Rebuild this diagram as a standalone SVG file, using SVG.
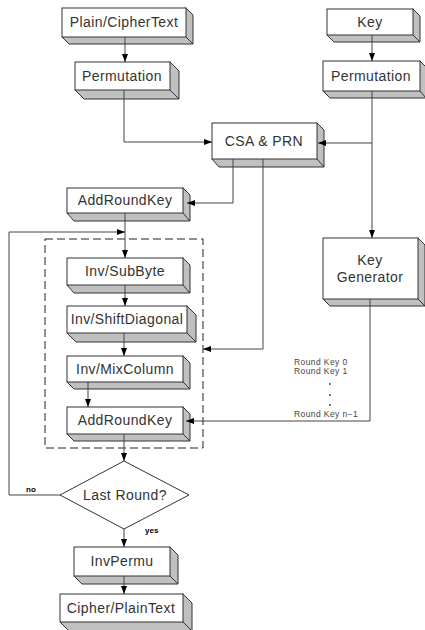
<svg xmlns="http://www.w3.org/2000/svg" width="425" height="630" viewBox="0 0 425 630">
<defs>
<style>
.sh{fill:#c0c0c0;stroke:#333;stroke-width:1}
.fr{fill:#fff;stroke:#333;stroke-width:1}
.t{font-family:"Liberation Sans",Arial,sans-serif;font-size:14px;letter-spacing:0.4px;fill:#333;text-anchor:middle}
.s{font-family:"Liberation Sans",Arial,sans-serif;font-size:8.5px;letter-spacing:0.4px;fill:#444}
.b{font-family:"Liberation Sans",Arial,sans-serif;font-size:8px;font-weight:bold;fill:#000}
.c{fill:none;stroke:#444;stroke-width:1}
.a{marker-end:url(#ah)}
</style>
<marker id="ah" markerUnits="userSpaceOnUse" markerWidth="8" markerHeight="8" viewBox="0 0 8 8" refX="8" refY="4" orient="auto">
<path d="M0,1 L8,4 L0,7 Z" fill="#000"/>
</marker>
</defs>
<rect width="425" height="630" fill="#fff"/>

<g id="plain">
<polygon class="sh" points="186,8 193,15 193,44 69,44 62,37"/><line class="sh" x1="186" y1="37" x2="193" y2="44"/>
<rect class="fr" x="62" y="8" width="124" height="29"/>
<text class="t" x="124" y="27">Plain/CipherText</text>
</g>
<g id="perm-l">
<polygon class="sh" points="170,62 179,71 179,99 84,99 75,90"/><line class="sh" x1="170" y1="90" x2="179" y2="99"/>
<rect class="fr" x="75" y="62" width="95" height="28"/>
<text class="t" x="122" y="81">Permutation</text>
</g>
<g id="key">
<polygon class="sh" points="413,9 420,16 420,42 334,42 327,35"/><line class="sh" x1="413" y1="35" x2="420" y2="42"/>
<rect class="fr" x="327" y="9" width="86" height="26"/>
<text class="t" x="370" y="27">Key</text>
</g>
<g id="perm-r">
<polygon class="sh" points="420,61 426,67 426,98 330,98 323,91"/><line class="sh" x1="420" y1="91" x2="426" y2="98"/>
<rect class="fr" x="323" y="61" width="97" height="30"/>
<text class="t" x="371" y="81">Permutation</text>
</g>
<g id="csa">
<polygon class="sh" points="317,123 324,130 324,167 219,167 212,159"/><line class="sh" x1="317" y1="159" x2="324" y2="167"/>
<rect class="fr" x="212" y="123" width="105" height="36"/>
<text class="t" x="264" y="146">CSA &amp; PRN</text>
</g>
<g id="ark1">
<polygon class="sh" points="183,188 190,195 190,221 74,221 67,213"/><line class="sh" x1="183" y1="213" x2="190" y2="221"/>
<rect class="fr" x="67" y="188" width="116" height="25"/>
<text class="t" x="125" y="205">AddRoundKey</text>
</g>
<g id="subbyte">
<polygon class="sh" points="183,258 190,265 190,293 74,293 67,285"/><line class="sh" x1="183" y1="285" x2="190" y2="293"/>
<rect class="fr" x="67" y="258" width="116" height="27"/>
<text class="t" x="125" y="276">Inv/SubByte</text>
</g>
<g id="shiftdiag">
<polygon class="sh" points="187,306 196,315 196,342 76,342 67,333"/><line class="sh" x1="187" y1="333" x2="196" y2="342"/>
<rect class="fr" x="67" y="306" width="120" height="27"/>
<text class="t" x="127" y="324">Inv/ShiftDiagonal</text>
</g>
<g id="mixcol">
<polygon class="sh" points="183,356 190,363 190,389 74,389 67,382"/><line class="sh" x1="183" y1="382" x2="190" y2="389"/>
<rect class="fr" x="67" y="356" width="116" height="26"/>
<text class="t" x="125" y="374">Inv/MixColumn</text>
</g>
<g id="ark2">
<polygon class="sh" points="183,407 190,414 190,441 74,441 67,434"/><line class="sh" x1="183" y1="434" x2="190" y2="441"/>
<rect class="fr" x="67" y="407" width="116" height="27"/>
<text class="t" x="125" y="425">AddRoundKey</text>
</g>
<g id="keygen">
<polygon class="sh" points="418,238 425,245 425,306 330,306 323,299"/><line class="sh" x1="418" y1="299" x2="425" y2="306"/>
<rect class="fr" x="323" y="238" width="95" height="61"/>
<text class="t" x="370" y="265">Key</text>
<text class="t" x="370" y="282">Generator</text>
</g>
<g id="lastround">
<polygon class="fr" points="124,461 189,495 124,529 60,495"/>
<text class="t" x="125" y="500">Last Round?</text>
</g>
<g id="invpermu">
<polygon class="sh" points="170,547 178,555 178,584 82,584 74,576"/><line class="sh" x1="170" y1="576" x2="178" y2="584"/>
<rect class="fr" x="74" y="547" width="96" height="29"/>
<text class="t" x="122" y="566">InvPermu</text>
</g>
<g id="cipher">
<polygon class="sh" points="183,594 192,603 192,631 69,631 60,622"/><line class="sh" x1="183" y1="622" x2="192" y2="631"/>
<rect class="fr" x="60" y="594" width="123" height="28"/>
<text class="t" x="121" y="613">Cipher/PlainText</text>
</g>
<g id="round-box">
<rect x="45" y="239" width="158" height="209" fill="none" stroke="#222" stroke-width="1" stroke-dasharray="8,4"/>
</g>

<g id="connectors">
<path class="c a" d="M125,37 V62"/>
<path class="c a" d="M124,90 V142 H212"/>
<path class="c a" d="M372,35 V61"/>
<path class="c a" d="M372,91 V238"/>
<path class="c a" d="M372,143 H318"/>
<path class="c a" d="M233,159 V203 H187"/>
<path class="c a" d="M263,159 V349 H203"/>
<path class="c a" d="M125,213 V258"/>
<path class="c a" d="M60,495 H9 V232 H125"/>
<path class="c a" d="M125,285 V306"/>
<path class="c a" d="M124,333 V356"/>
<path class="c a" d="M88,382 V407"/>
<path class="c a" d="M124,434 V461"/>
<path class="c a" d="M370,299 V421 H186"/>
<path class="c a" d="M124,529 V547"/>
<path class="c a" d="M124,576 V594"/>
</g>
<g id="labels">
<text class="s" x="294" y="365">Round Key 0</text>
<text class="s" x="294" y="374">Round Key 1</text>
<circle cx="330" cy="384" r="1" fill="#444"/>
<circle cx="330" cy="395" r="1" fill="#444"/>
<circle cx="330" cy="405" r="1" fill="#444"/>
<text class="s" x="294" y="417">Round Key n−1</text>
<text class="b" x="145" y="533">yes</text>
<text class="b" x="26" y="492">no</text>
</g>
</svg>
